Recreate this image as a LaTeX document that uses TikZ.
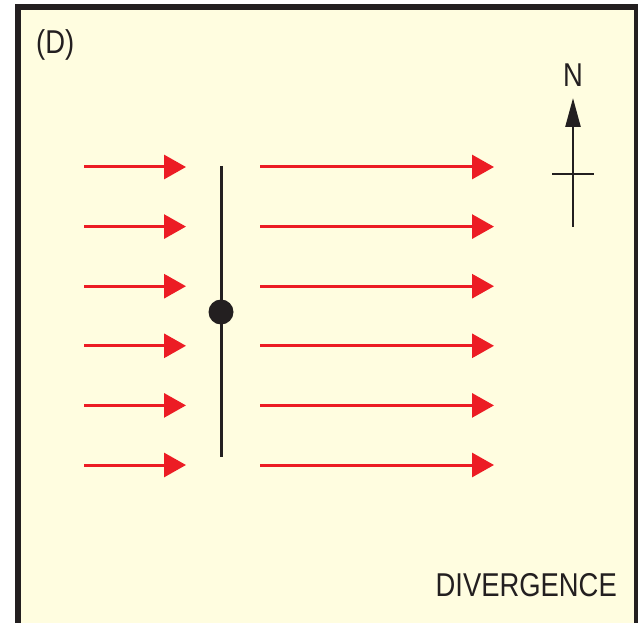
\documentclass[tikz,border=0pt]{standalone}
\usepackage{fontspec}
\setmainfont{Liberation Sans}
\newfontfamily\condfont[FakeStretch=0.83]{Liberation Sans}
\usetikzlibrary{arrows.meta}
\definecolor{paper}{HTML}{FFFDE0}
\definecolor{ink}{HTML}{231F20}
\definecolor{flow}{HTML}{EC1C24}

\begin{document}
\begin{tikzpicture}[x=1pt,y=-1pt,
    flowarrow/.style={flow,line width=3pt,-{Triangle[length=22pt,width=24pt]}},
    tag/.style={ink,inner sep=0pt,font=\condfont\fontsize{33}{33}\selectfont}]
  \useasboundingbox (0,0) rectangle (638,623);
  \draw[ink,line width=6pt,fill=paper] (17.5,7.5) rectangle (636.5,680);
  \node[tag,anchor=base west] (panel) at (36,54) {(D)};
  \node[tag,anchor=base east] (kind) at (617,596) {DIVERGENCE};
  % flow on both sides of the well
  \foreach \i in {0,...,5}{
    \coordinate (in\i) at (84,167+59.6*\i);
    \coordinate (inend\i) at (186,167+59.6*\i);
    \coordinate (out\i) at (260,167+59.6*\i);
    \coordinate (outend\i) at (494,167+59.6*\i);
    \draw[flowarrow] (in\i) -- (inend\i);
    \draw[flowarrow] (out\i) -- (outend\i);
  }
  \coordinate (welltop) at (221,166);
  \coordinate (wellbot) at (221,457);
  \draw[ink,line width=3pt] (welltop) -- (wellbot);
  \node[circle,fill=ink,minimum size=25pt,inner sep=0pt] (well) at (221,312) {};
  % north marker
  \coordinate (nfoot) at (573,227);
  \coordinate (ntip) at (573,98);
  \coordinate (barw) at (552,174);
  \coordinate (bare) at (594,174);
  \draw[ink,line width=2.5pt,-{Triangle[length=29pt,width=15pt]}] (nfoot) -- (ntip);
  \draw[ink,line width=2.5pt] (barw) -- (bare);
  \node[tag,anchor=base] (north) at (573,87) {N};
\end{tikzpicture}
\end{document}
